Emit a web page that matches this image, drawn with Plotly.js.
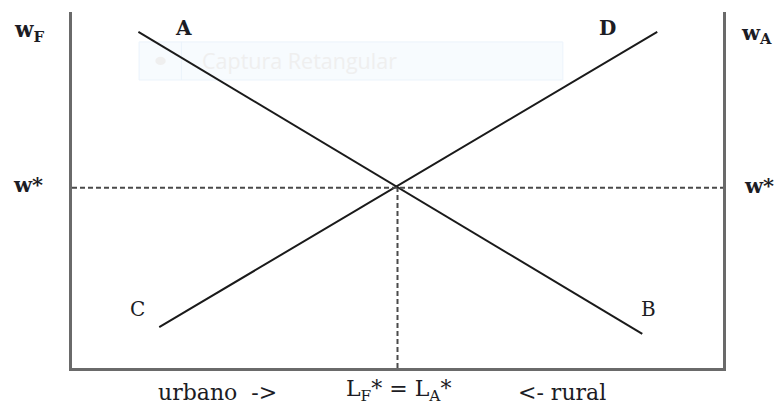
<!DOCTYPE html>
<html>
<head>
<meta charset="utf-8">
<script src="https://cdn.plot.ly/plotly-3.0.1.min.js"></script>
<style>
  html, body { margin: 0; padding: 0; background: #fff; }
  #chart { width: 776px; height: 405px; }
</style>
</head>
<body>
<div id="chart"></div>
<script>
// Urban (F) labour demand and rural (A) labour demand, both read against the same
// labour axis: urban labour counted from the left, rural labour from the right.
const demandF = { x: [10.2, 87.6], y: [94.4, 9.6] };   // line A -> B
const demandA = { x: [13.4, 89.9], y: [11.5, 94.4] };  // line C -> D
const equilibrium = { L: 50.0, w: 50.6 };               // L_F* = L_A*, w*

const pointLabels = ['A', 'B', 'C', 'D'];

const axisLabels = {
  left: 'w<sub>F</sub>',
  right: 'w<sub>A</sub>',
  wage: 'w*',
  urban: 'urbano  ->',
  eq: 'L<sub>F</sub>* = L<sub>A</sub>*',
  rural: '<- rural'
};

const ink = '#1c1c24';
const serif = 'DejaVu Serif, Liberation Serif, serif';

const traces = [
  { x: demandF.x, y: demandF.y, mode: 'lines', line: { color: '#1a1a1a', width: 2 }, hoverinfo: 'skip' },
  { x: demandA.x, y: demandA.y, mode: 'lines', line: { color: '#1a1a1a', width: 2 }, hoverinfo: 'skip' },
  // dashed guides through the equilibrium
  { x: [0, 100], y: [equilibrium.w, equilibrium.w], mode: 'lines',
    line: { color: '#4a4a4a', width: 2, dash: '5px,3px' }, hoverinfo: 'skip' },
  { x: [equilibrium.L, equilibrium.L], y: [0, equilibrium.w], mode: 'lines',
    line: { color: '#4a4a4a', width: 2, dash: '5px,3px' }, hoverinfo: 'skip' }
];

// positions in paper units (0..1 spans the framed box)
function label(text, x, y, size, bold) {
  return {
    text: text, x: x, y: y, xref: 'paper', yref: 'paper', showarrow: false,
    font: { family: serif, size: size, color: ink, weight: bold ? 'bold' : 'normal' },
    xanchor: 'center', yanchor: 'middle', borderpad: 0
  };
}

const annotations = [
  label(pointLabels[0], 0.171, 0.955, 20, true),
  label(pointLabels[1], 0.885, 0.165, 20, false),
  label(pointLabels[2], 0.101, 0.165, 20, false),
  label(pointLabels[3], 0.822, 0.955, 20, true),
  label(axisLabels.left, -0.065, 0.945, 21.5, true),
  label(axisLabels.right, 1.052, 0.940, 21, true),
  label(axisLabels.wage, -0.068, 0.515, 21, true),
  label(axisLabels.wage, 1.055, 0.512, 21, true),
  label(axisLabels.urban, 0.223, -0.068, 22, false),
  label(axisLabels.eq, 0.502, -0.063, 22, false),
  label(axisLabels.rural, 0.753, -0.068, 22, false),
  // screen-capture tool banner
  { text: 'Captura Retangular', x: 0.197, y: 0.865, xref: 'paper', yref: 'paper', showarrow: false,
    xanchor: 'left', yanchor: 'middle',
    font: { family: 'Open Sans, Noto Sans, sans-serif', size: 21.5, color: '#efefef' } }
];

const shapes = [
  { type: 'rect', xref: 'x', yref: 'y', x0: 10.3, x1: 75.4, y0: 80.9, y1: 91.6, layer: 'below',
    fillcolor: '#f7fbfe', line: { color: '#ebf3fb', width: 1 } },
  { type: 'line', xref: 'x', yref: 'y', x0: 16.8, x1: 16.8, y0: 80.9, y1: 91.6, layer: 'below',
    line: { color: '#ebf3fb', width: 1 } },
  { type: 'circle', xref: 'x', yref: 'y', x0: 12.8, x1: 14.4, y0: 85.1, y1: 87.4, layer: 'below',
    fillcolor: '#efefef', line: { width: 0 } }
];

const layout = {
  width: 776, height: 405,
  margin: { l: 72, r: 53, t: 12, b: 37, pad: 0 },
  paper_bgcolor: '#ffffff', plot_bgcolor: '#ffffff',
  showlegend: false,
  xaxis: { range: [0, 100], showgrid: false, zeroline: false, showticklabels: false, ticks: '',
           showline: true, linecolor: '#6a6a6a', linewidth: 3, mirror: false, fixedrange: true },
  yaxis: { range: [0, 100], showgrid: false, zeroline: false, showticklabels: false, ticks: '',
           showline: true, linecolor: '#6a6a6a', linewidth: 3, mirror: 'allticks', fixedrange: true },
  annotations: annotations,
  shapes: shapes
};

Plotly.newPlot('chart', traces, layout, { staticPlot: true, displayModeBar: false });
</script>
</body>
</html>
